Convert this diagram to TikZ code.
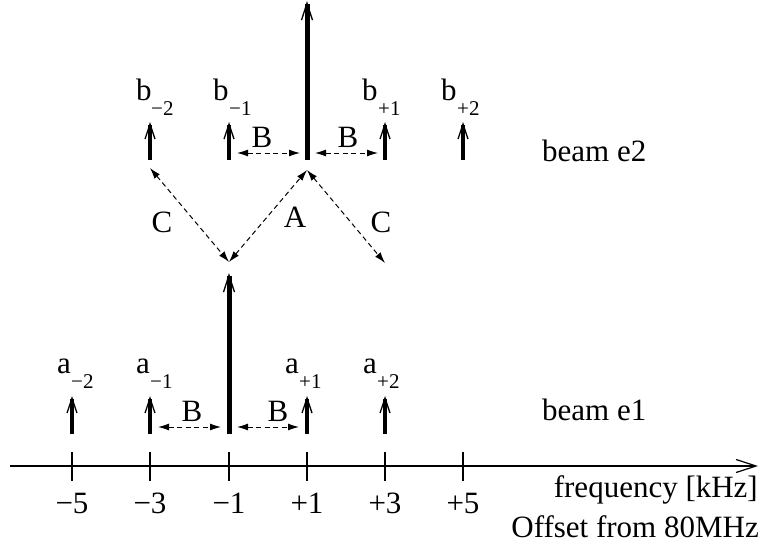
\documentclass[tikz,border=0pt]{standalone}
\usepackage{fontspec}
\setmainfont{Liberation Serif}
\usetikzlibrary{arrows.meta}
\begin{document}
\begin{tikzpicture}[x=1pt,y=-1pt,
  lbl/.style={inner sep=0pt, font=\fontsize{31}{36}\selectfont},
  sublbl/.style={inner sep=0pt, font=\fontsize{21}{25}\selectfont},
  spike/.style={line width=4pt, -{Straight Barb[length=15pt,width=10pt,line width=1.3pt]}},
  bigspike/.style={line width=5pt, -{Straight Barb[length=17pt,width=11pt,line width=1.3pt]}},
  dasharrow/.style={line width=1pt, dash pattern=on 5pt off 3.5pt, {Latex[length=11pt,width=7pt]}-{Latex[length=11pt,width=7pt]}},
  tickmark/.style={line width=1.2pt},
  axisline/.style={line width=1.2pt, -{Straight Barb[length=20pt,width=13pt,line width=1.2pt]}}]
\useasboundingbox (0,0) rectangle (760,549);

% axis
\coordinate (ax0) at (10,466);
\coordinate (ax1) at (758,466);
\draw[axisline] (ax0) -- (ax1);
\foreach \x/\t/\n in {72/−5/m5,150/−3/m3,229/−1/m1,307/+1/p1,385/+3/p3,463/+5/p5}{
  \coordinate (tt\n) at (\x,452);
  \coordinate (tb\n) at (\x,481);
  \draw[tickmark] (tt\n) -- (tb\n);
  \node[lbl, anchor=base] (tl\n) at (\x,513) {\t};
}
\node[lbl, anchor=base east] (freq) at (758,497) {frequency [kHz]};
\node[lbl, anchor=base east] (offs) at (759,537) {Offset from 80MHz};

% beam e2 spikes
\foreach \x/\n in {150/bm2,229/bm1,385/bp1,463/bp2}{
  \coordinate (\n base) at (\x,160);
  \coordinate (\n tip) at (\x,122);
  \draw[spike] (\n base) -- (\n tip);
}
\coordinate (b0base) at (307,160);
\coordinate (b0tip) at (307,1);
\draw[bigspike] (b0base) -- (b0tip);

% beam e1 spikes
\foreach \x/\n in {72/am2,150/am1,307/ap1,385/ap2}{
  \coordinate (\n base) at (\x,434);
  \coordinate (\n tip) at (\x,396);
  \draw[spike] (\n base) -- (\n tip);
}
\coordinate (a0base) at (229,434);
\coordinate (a0tip) at (229,273);
\draw[bigspike] (a0base) -- (a0tip);

% labels b
\node[lbl, anchor=base west] (lbm2) at (136,100) {b};
\node[sublbl, anchor=base west] (sbm2) at (151,115) {−2};
\node[lbl, anchor=base west] (lbm1) at (213,100) {b};
\node[sublbl, anchor=base west] (sbm1) at (229,115) {−1};
\node[lbl, anchor=base west] (lbp1) at (362,100) {b};
\node[sublbl, anchor=base west] (sbp1) at (378,115) {+1};
\node[lbl, anchor=base west] (lbp2) at (441,100) {b};
\node[sublbl, anchor=base west] (sbp2) at (457,115) {+2};

% labels a
\node[lbl, anchor=base west] (lam2) at (57,373) {a};
\node[sublbl, anchor=base west] (sam2) at (71,388) {−2};
\node[lbl, anchor=base west] (lam1) at (136,373) {a};
\node[sublbl, anchor=base west] (sam1) at (150,388) {−1};
\node[lbl, anchor=base west] (lap1) at (285,373) {a};
\node[sublbl, anchor=base west] (sap1) at (299,388) {+1};
\node[lbl, anchor=base west] (lap2) at (363,373) {a};
\node[sublbl, anchor=base west] (sap2) at (377,388) {+2};

% beam labels
\node[lbl, anchor=base west] (beam2) at (542,161) {beam e2};
\node[lbl, anchor=base west] (beam1) at (542,420) {beam e1};

% B arrows
\coordinate (B1l) at (237,153); \coordinate (B1r) at (300,153);
\coordinate (B2l) at (315,153); \coordinate (B2r) at (378,153);
\coordinate (B3l) at (158,427); \coordinate (B3r) at (221,427);
\coordinate (B4l) at (237,427); \coordinate (B4r) at (299,427);
\draw[dasharrow] (B1l) -- (B1r);
\draw[dasharrow] (B2l) -- (B2r);
\draw[dasharrow] (B3l) -- (B3r);
\draw[dasharrow] (B4l) -- (B4r);
\node[lbl] (LB1) at (262,137) {B};
\node[lbl] (LB2) at (348,137) {B};
\node[lbl] (LB3) at (192,411) {B};
\node[lbl] (LB4) at (278,411) {B};

% diagonal arrows
\coordinate (D1) at (150,168);
\coordinate (D2) at (229,262);
\coordinate (D3) at (307,170);
\coordinate (D4) at (385,263);
\draw[dasharrow] (D1) -- (D2);
\draw[dasharrow] (D2) -- (D3);
\draw[dasharrow] (D3) -- (D4);
\node[lbl] (LC1) at (162,222) {C};
\node[lbl] (LA) at (295,217) {A};
\node[lbl] (LC2) at (381,222) {C};
\end{tikzpicture}
\end{document}
